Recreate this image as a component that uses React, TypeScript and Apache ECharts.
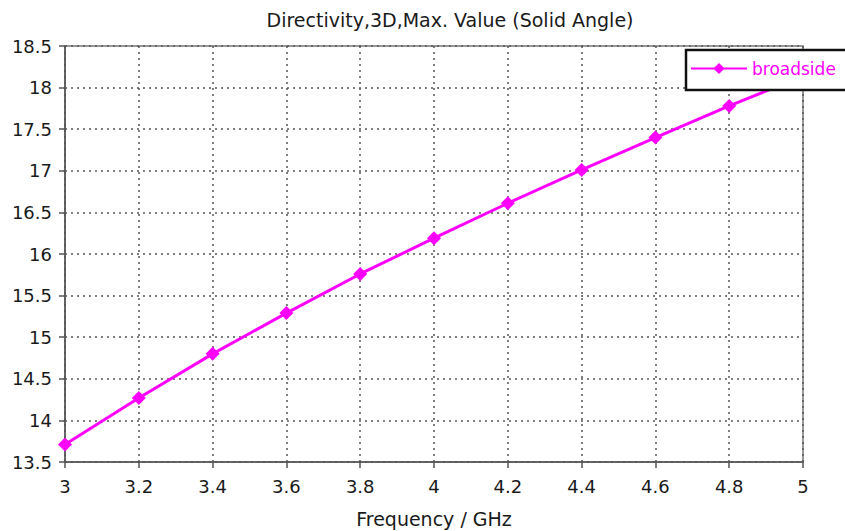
import React, { useEffect, useRef } from "react";
import * as echarts from "echarts";

const frequencies = [3.0, 3.2, 3.4, 3.6, 3.8, 4.0, 4.2, 4.4, 4.6, 4.8, 5.0];
const broadside = [13.71, 14.27, 14.8, 15.29, 15.76, 16.19, 16.61, 17.01, 17.4, 17.78, 18.14];
const seriesName = "broadside";
const titleText = "Directivity,3D,Max. Value (Solid Angle)";
const xAxisName = "Frequency / GHz";

export default function App() {
  const ref = useRef<HTMLDivElement>(null);
  useEffect(() => {
    if (!ref.current) return;
    const chart = echarts.init(ref.current, null, { renderer: "svg" });
    const font = "Tahoma, 'DejaVu Sans', Verdana, sans-serif";
    chart.setOption({
      animation: false,
      backgroundColor: "#ffffff",
      title: {
        text: titleText,
        left: 445,
        textAlign: "center",
        top: 5,
        textStyle: { fontFamily: font, fontSize: 19, fontWeight: "normal", color: "#1a1a1a" },
      },
      grid: {
        left: 65,
        right: 42,
        top: 46,
        bottom: 69,
        outerBoundsMode: "none",
        containLabel: false,
        show: true,
        borderColor: "#777",
        borderWidth: 1.5,
        backgroundColor: "#ffffff",
      },
      legend: {
        data: [seriesName],
        left: 688,
        top: 52,
        z: 5,
        itemWidth: 56,
        itemHeight: 14,
        itemGap: 0,
        padding: [8, 2, 8, 2],
        textStyle: { fontFamily: font, fontSize: 17, color: "#ff00ff", padding: [0, 0, 0, 0] },
      },
      graphic: [
        {
          type: "rect",
          z: 3,
          shape: { x: 686, y: 50, width: 200, height: 40 },
          style: { fill: "#ffffff", stroke: "#111", lineWidth: 2.5 },
        },
      ],
      xAxis: {
        type: "value",
        min: 3,
        max: 5,
        interval: 0.2,
        name: xAxisName,
        nameLocation: "middle",
        nameGap: 47,
        nameTextStyle: { fontFamily: font, fontSize: 19, color: "#1a1a1a" },
        axisLine: { show: true, lineStyle: { color: "#555", width: 1.5 } },
        axisTick: { show: true, length: 6, lineStyle: { color: "#555", width: 1.5 } },
        axisLabel: {
          fontFamily: font,
          fontSize: 18,
          color: "#1a1a1a",
          margin: 15,
          formatter: (v: number) => String(Math.round(v * 10) / 10),
        },
        splitLine: { show: true, lineStyle: { color: "#555", type: [2, 4], width: 1.5 } },
      },
      yAxis: {
        type: "value",
        min: 13.5,
        max: 18.5,
        interval: 0.5,
        axisLine: { show: true, lineStyle: { color: "#555", width: 1.5 } },
        axisTick: { show: true, length: 6, lineStyle: { color: "#555", width: 1.5 } },
        axisLabel: {
          fontFamily: font,
          fontSize: 18,
          color: "#1a1a1a",
          margin: 13,
          formatter: (v: number) => String(Math.round(v * 10) / 10),
        },
        splitLine: { show: true, lineStyle: { color: "#555", type: [2, 4], width: 1.5 } },
      },
      series: [
        {
          name: seriesName,
          type: "line",
          z: 2,
          data: frequencies.map((f, i) => [f, broadside[i]]),
          symbol: "diamond",
          symbolSize: 14,
          showAllSymbol: true,
          lineStyle: { color: "#ff00ff", width: 3 },
          itemStyle: { color: "#ff00ff" },
        },
      ],
    });
    return () => chart.dispose();
  }, []);
  return (
    <div
      ref={ref}
      style={{ position: "fixed", left: 0, top: 0, width: 845, height: 531, background: "#fff" }}
    />
  );
}
